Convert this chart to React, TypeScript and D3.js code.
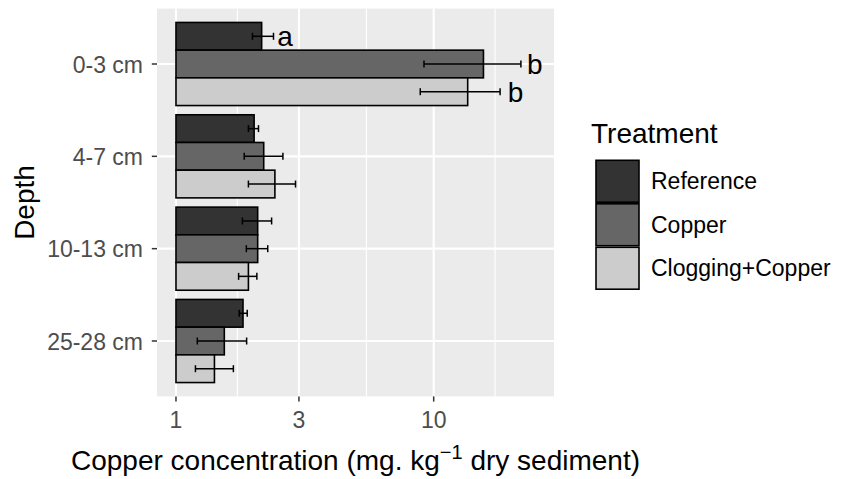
import { scaleBand, scaleLog } from "d3";

const depths = ["0-3 cm", "4-7 cm", "10-13 cm", "25-28 cm"];
const treatments = ["Reference", "Copper", "Clogging+Copper"];
const fills = ["#333333", "#666666", "#CCCCCC"];

// means and error limits per depth
const referenceMean = [2.15, 2.01, 2.075, 1.82];
const referenceLow = [1.98, 1.91, 1.81, 1.76];
const referenceHigh = [2.39, 2.09, 2.35, 1.89];

const copperMean = [15.6, 2.19, 2.075, 1.54];
const copperLow = [9.17, 1.84, 1.875, 1.21];
const copperHigh = [21.8, 2.6, 2.27, 1.88];

const cloggingMean = [13.55, 2.42, 1.91, 1.41];
const cloggingLow = [8.87, 1.91, 1.75, 1.19];
const cloggingHigh = [18.1, 2.91, 2.06, 1.67];

const letterDepth = ["0-3 cm", "0-3 cm", "0-3 cm"];
const letterTreatment = ["Reference", "Copper", "Clogging+Copper"];
const letterText = ["a", "b", "b"];
const letterX = [2.65, 24.7, 20.8];

const xTicks = [1, 3, 10];
const xMinor = [1.73, 5.48, 17.3];

const means = [referenceMean, copperMean, cloggingMean];
const lows = [referenceLow, copperLow, cloggingLow];
const highs = [referenceHigh, copperHigh, cloggingHigh];

const FONT = "'Liberation Sans', Arial, sans-serif";

export default function App() {
  const width = 841;
  const height = 479;
  const panel = { left: 157, right: 554, top: 8.6, bottom: 396.4 };

  const x = scaleLog().domain([0.844, 29.3]).range([panel.left, panel.right]);
  const y = scaleBand<string>()
    .domain(depths)
    .range([panel.top, panel.bottom])
    .paddingInner(0.1)
    .paddingOuter(0.15);
  const sub = scaleBand<string>().domain(treatments).range([0, y.bandwidth()]);
  const center = (d: string) => (y(d) ?? 0) + y.bandwidth() / 2;
  const barCenter = (d: string, t: string) => (y(d) ?? 0) + (sub(t) ?? 0) + sub.bandwidth() / 2;

  const keySize = 43.5;
  const keyTop = 159.5;

  return (
    <svg
      width={width}
      height={height}
      style={{ position: "absolute", left: 0, top: 0, background: "#fff" }}
      fontFamily={FONT}
    >
      <rect x={panel.left} y={panel.top} width={panel.right - panel.left} height={panel.bottom - panel.top} fill="#EBEBEB" />
      {xMinor.map((v) => (
        <line key={"mn" + v} x1={x(v)} x2={x(v)} y1={panel.top} y2={panel.bottom} stroke="#fff" strokeWidth={1.1} />
      ))}
      {xTicks.map((v) => (
        <line key={"mj" + v} x1={x(v)} x2={x(v)} y1={panel.top} y2={panel.bottom} stroke="#fff" strokeWidth={2.1} />
      ))}
      {depths.map((d) => (
        <line key={"hg" + d} x1={panel.left} x2={panel.right} y1={center(d)} y2={center(d)} stroke="#fff" strokeWidth={2.1} />
      ))}

      {treatments.map((t, ti) =>
        depths.map((d, di) => (
          <rect
            key={t + d}
            x={x(1)}
            y={(y(d) ?? 0) + (sub(t) ?? 0)}
            width={x(means[ti][di]) - x(1)}
            height={sub.bandwidth()}
            fill={fills[ti]}
            stroke="#000"
            strokeWidth={1.6}
          />
        ))
      )}

      {treatments.map((t, ti) =>
        depths.map((d, di) => {
          const cy = barCenter(d, t);
          const x0 = x(lows[ti][di]);
          const x1 = x(highs[ti][di]);
          return (
            <g key={"e" + t + d} stroke="#000" strokeWidth={1.5}>
              <line x1={x0} x2={x1} y1={cy} y2={cy} />
              <line x1={x0} x2={x0} y1={cy - 3.5} y2={cy + 3.5} />
              <line x1={x1} x2={x1} y1={cy - 3.5} y2={cy + 3.5} />
            </g>
          );
        })
      )}

      {letterText.map((txt, i) => (
        <text
          key={"l" + i}
          x={x(letterX[i])}
          y={barCenter(letterDepth[i], letterTreatment[i]) + 10}
          textAnchor="middle"
          fontSize={28}
          fill="#000"
        >
          {txt}
        </text>
      ))}

      {/* y axis */}
      {depths.map((d) => (
        <g key={"yt" + d}>
          <line x1={panel.left - 5.2} x2={panel.left} y1={center(d)} y2={center(d)} stroke="#333" strokeWidth={1.5} />
          <text x={143} y={center(d) + 8.5} textAnchor="end" fontSize={23} fill="#4D4D4D">
            {d}
          </text>
        </g>
      ))}
      <text transform={`translate(34,${(panel.top + panel.bottom) / 2}) rotate(-90)`} textAnchor="middle" fontSize={28} fill="#000">
        Depth
      </text>

      {/* x axis */}
      {xTicks.map((v) => (
        <g key={"xt" + v}>
          <line x1={x(v)} x2={x(v)} y1={panel.bottom} y2={panel.bottom + 5.2} stroke="#333" strokeWidth={1.5} />
          <text x={x(v)} y={428} textAnchor="middle" fontSize={23} fill="#4D4D4D">
            {v}
          </text>
        </g>
      ))}
      <text x={(panel.left + panel.right) / 2} y={470} textAnchor="middle" fontSize={28} fill="#000">
        Copper concentration (mg. kg
        <tspan dy={-11} fontSize={20}>
          {"\u22121"}
        </tspan>
        <tspan dy={11}> dry sediment)</tspan>
      </text>

      {/* legend */}
      <text x={591} y={143} fontSize={28} fill="#000">
        Treatment
      </text>
      {treatments.map((t, i) => {
        const top = keyTop + i * keySize;
        return (
          <g key={"lg" + t}>
            <rect x={596} y={top + 0.8} width={43} height={keySize - 1.6} fill={fills[i]} stroke="#000" strokeWidth={1.6} />
            <text x={651} y={top + keySize / 2 + 8} fontSize={23} fill="#000">
              {t}
            </text>
          </g>
        );
      })}
    </svg>
  );
}
